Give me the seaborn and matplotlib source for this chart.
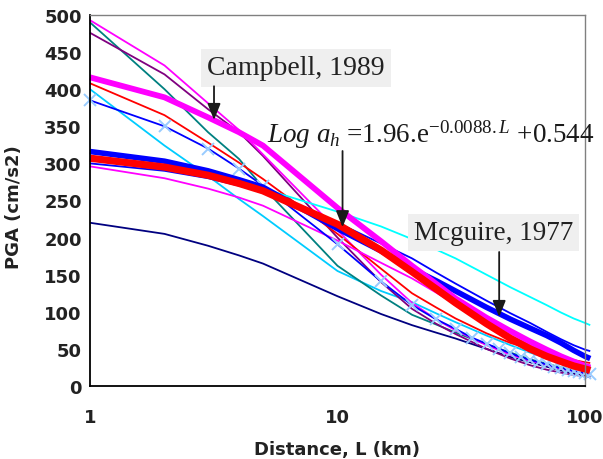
import matplotlib
matplotlib.use("Agg")
import matplotlib.pyplot as plt
from matplotlib.ticker import FixedLocator, FixedFormatter, LogLocator, NullFormatter
import pandas as pd
import seaborn as sns

# Epicentral distance (km) at which every attenuation curve is evaluated
distance_km = [1, 2, 3, 4, 5, 10, 15, 20, 25, 30, 40, 50, 60, 70, 80, 90, 100, 105]
# The marked curve is tabulated every 5 km beyond 5 km
marked_distance_km = [1, 2, 3, 4, 5, 10, 15, 20, 25, 30, 35, 40, 45, 50, 55, 60,
                      65, 70, 75, 80, 85, 90, 95, 100, 105]

# Peak ground acceleration (cm/s2) of each relationship
pga_navy = [220, 205, 189, 176, 165, 121, 97, 82, 72, 64, 50, 39, 32, 26, 21, 17, 13, 12]
pga_skyblue = [400, 324, 283, 252, 229, 155, 128, 113, 98, 86, 68, 55, 45, 38, 32, 28, 25, 24]
pga_teal = [490, 400, 342, 306, 268, 162, 122, 96, 83, 72, 56, 45, 36, 30, 25, 21, 18, 17]
pga_purple = [476, 420, 373, 342, 310, 200, 140, 104, 84, 70, 50, 37, 28, 22, 18, 15, 13, 12]
pga_magenta_a = [493, 432, 381, 345, 312, 210, 150, 112, 90, 75, 55, 42, 34, 28, 23, 20, 17, 16]
pga_red_thin = [408, 365, 328, 301, 279, 205, 158, 125, 106, 91, 71, 58, 50, 44, 39, 35, 32, 31]
pga_magenta_b = [296, 280, 266, 254, 243, 196, 166, 145, 126, 110, 85, 68, 55, 45, 38, 32, 28, 27]
pga_blue_thin = [300, 290, 280, 270, 262, 220, 192, 172, 153, 138, 115, 98, 85, 73, 63, 55, 49, 47]
pga_cyan = [304, 295, 285, 275, 266, 235, 215, 198, 184, 172, 150, 133, 120, 109, 99, 91, 85, 82]
pga_marked = [385, 350, 320, 293, 270, 191, 141, 109, 90, 77, 65, 57, 50, 44, 39, 35,
              32, 29, 26, 24, 22, 20, 19, 17, 16]
pga_mcguire_1977 = [316, 303, 290, 278, 268, 212, 182, 158, 142, 128, 106, 90, 78, 68, 58, 48, 40, 37]
pga_campbell_1989 = [416, 389, 362, 342, 324, 240, 195, 162, 138, 118, 92, 74, 60, 49, 40, 33, 27, 25]
# Log a_h = 1.96 e^(-0.0088 L) + 0.544
pga_fit = [307, 295, 284, 273, 263, 218, 183, 154, 131, 112, 84, 64, 50, 40, 33, 27, 23, 21]

y_ticks = [0, 50, 100, 150, 200, 250, 300, 350, 400, 450, 500]
x_ticks = [1, 10, 100]
x_tick_labels = ["1", "10", "100"]

sns.set_theme(style="white")
plt.rcParams["font.family"] = ["DejaVu Sans"]
plt.rcParams["mathtext.fontset"] = "custom"
plt.rcParams["mathtext.rm"] = "Liberation Serif"
plt.rcParams["mathtext.it"] = "Liberation Serif:italic"
plt.rcParams["mathtext.bf"] = "Liberation Serif:bold"

fig = plt.figure(figsize=(6.03, 4.60), dpi=100)
ax = fig.add_axes([90 / 603, 1 - 387 / 460, 495 / 603, 371 / 460])

series = [
    (distance_km, pga_navy, "#000080", 1.3, None),
    (distance_km, pga_skyblue, "#00CCFF", 1.3, None),
    (distance_km, pga_teal, "#008080", 1.3, None),
    (distance_km, pga_purple, "#800080", 1.3, None),
    (distance_km, pga_magenta_a, "#FF00FF", 1.3, None),
    (distance_km, pga_red_thin, "#FF0000", 1.3, None),
    (distance_km, pga_magenta_b, "#FF00FF", 1.3, None),
    (distance_km, pga_blue_thin, "#0000FF", 1.3, None),
    (distance_km, pga_cyan, "#00FFFF", 1.3, None),
    (marked_distance_km, pga_marked, "#0000FF", 1.3, "x"),
    (distance_km, pga_mcguire_1977, "#0000FF", 4.0, None),
    (distance_km, pga_campbell_1989, "#FF00FF", 4.2, None),
    (distance_km, pga_fit, "#FF0000", 5.2, None),
]

for xs, ys, color, lw, marker in series:
    frame = pd.DataFrame({"distance": xs, "pga": ys})
    kw = dict(x="distance", y="pga", data=frame, ax=ax, color=color, lw=lw,
              clip_on=False, legend=False, solid_capstyle="butt",
              solid_joinstyle="round")
    if marker:
        kw.update(marker=marker, markersize=8, markeredgecolor="#99CCFF",
                  markeredgewidth=1.4)
    sns.lineplot(**kw)

ax.set_xscale("log")
ax.set_xlim(1, 100)
ax.set_ylim(0, 500)

ax.xaxis.set_major_locator(FixedLocator(x_ticks))
ax.xaxis.set_major_formatter(FixedFormatter(x_tick_labels))
ax.xaxis.set_minor_locator(LogLocator(base=10, subs=range(2, 10)))
ax.xaxis.set_minor_formatter(NullFormatter())
ax.yaxis.set_major_locator(FixedLocator(y_ticks))

for s in ("left", "bottom"):
    ax.spines[s].set_color("black")
    ax.spines[s].set_linewidth(1.3)
for s in ("top", "right"):
    ax.spines[s].set_color("#808080")
    ax.spines[s].set_linewidth(1.0)

ax.tick_params(axis="x", which="major", direction="out", length=4.5, width=1,
               color="black", pad=11, labelsize=13)
ax.tick_params(axis="x", which="minor", direction="out", length=3.2, width=1,
               color="black")
ax.tick_params(axis="y", which="major", direction="out", length=5, width=1,
               color="black", pad=1, labelsize=13)
for lab in ax.get_xticklabels() + ax.get_yticklabels():
    lab.set_fontweight("bold")
    lab.set_color("#222222")

ax.set_xlabel("Distance, L (km)", fontsize=13, fontweight="bold", color="#222222")
ax.set_ylabel("PGA (cm/s2)", fontsize=13, fontweight="bold", color="#222222")
ax.xaxis.set_label_coords(0.5, -0.145)
ax.yaxis.set_label_coords(-0.135, 0.485)

serif = "Liberation Serif"
box = dict(boxstyle="square,pad=0.22", fc="#EFEFEF", ec="none")
arrow = dict(arrowstyle="-|>,head_length=0.55,head_width=0.22", mutation_scale=18,
             color="#1a1a1a", lw=1.3, shrinkA=0, shrinkB=0)

ax.text(6.80, 428.6, "Campbell, 1989", family=serif, fontsize=20, color="#222222",
        ha="center", va="center", bbox=box, zorder=5)
ax.annotate("", xy=(3.17, 358.5), xytext=(3.17, 404), arrowprops=arrow, zorder=6)

ax.text(5.17, 328.8,
        r"$Log\ a_h$ =1.96.e$^{-0.0088.L}$ +0.544",
        family=serif, fontsize=19.5, color="#1a1a1a", ha="left", va="baseline",
        zorder=5, clip_on=False)
ax.annotate("", xy=(10.48, 214), xytext=(10.48, 316.7), arrowprops=arrow, zorder=6)

ax.text(42.8, 206.9, "Mcguire, 1977", family=serif, fontsize=19.5, color="#222222",
        ha="center", va="center", bbox=box, zorder=5)
ax.annotate("", xy=(45, 93), xytext=(45, 180.6), arrowprops=arrow, zorder=6)

fig.savefig("out.png", dpi=100, facecolor="white")
